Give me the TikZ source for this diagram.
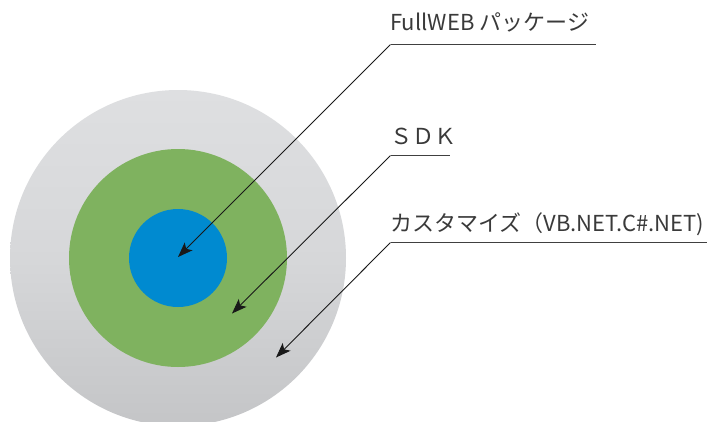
\documentclass[tikz,border=0pt]{standalone}
\usepackage{fontspec}
\setmainfont{Noto Sans CJK JP}
\usetikzlibrary{arrows.meta}
\definecolor{outerlight}{HTML}{DEDFE1}
\definecolor{outerdark}{HTML}{C4C5C7}
\definecolor{sdkgreen}{HTML}{7FB25F}
\definecolor{coreblue}{HTML}{008AD0}
\definecolor{labeltext}{HTML}{3A3A3A}
\definecolor{rulegray}{HTML}{404040}
\tikzset{
  lbl/.style={anchor=base west, inner sep=0pt, text=labeltext, font=\fontsize{22}{22}\selectfont},
  rule/.style={draw=rulegray, line width=1.6pt},
  pointer/.style={draw=black!90, line width=0.9pt, -{Stealth[length=15pt,width=11pt,inset=3.5pt]}}
}
\begin{document}
\begin{tikzpicture}[x=1pt,y=-1pt]
\useasboundingbox (0,0) rectangle (713,421);
\clip (0,0) rectangle (713,421);
\fill[white] (0,0) rectangle (713,421);
% rings
\coordinate (c) at (178,258);
\shade[top color=outerlight, bottom color=outerdark, middle color=outerlight!70!outerdark] (c) circle[radius=168];
\fill[sdkgreen] (c) circle[radius=109];
\fill[coreblue] (c) circle[radius=49];
% labels
\node[lbl] (l1) at (390,30.5) {FullWEB パッケージ};
\node[lbl] (l2) at (390,144) {ＳＤＫ};
\node[lbl] (l3) at (390,231.5) {カスタマイズ（VB.NET.C\#.NET)};
% underline endpoints
\coordinate (u1s) at (390.5,44.5);
\coordinate (u1e) at (596,44.5);
\coordinate (u2s) at (390.5,155.5);
\coordinate (u2e) at (450,155.5);
\coordinate (u3s) at (390.5,242.5);
\coordinate (u3e) at (707,242.5);
% arrow tips
\coordinate (t1) at (178,257);
\coordinate (t2) at (232,313.5);
\coordinate (t3) at (276,357.5);
\draw[rule] (u1s) -- (u1e);
\draw[rule] (u2s) -- (u2e);
\draw[rule] (u3s) -- (u3e);
\draw[pointer] (u1s) -- (t1);
\draw[pointer] (u2s) -- (t2);
\draw[pointer] (u3s) -- (t3);
\end{tikzpicture}
\end{document}
